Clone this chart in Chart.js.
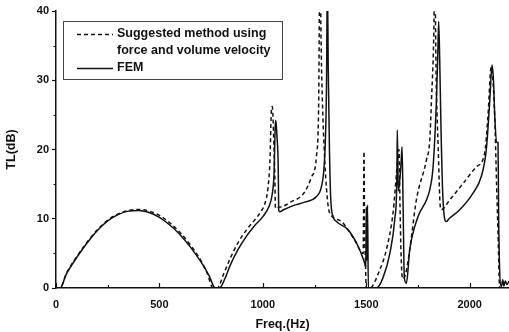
<!DOCTYPE html>
<html>
<head>
<meta charset="utf-8">
<script src="https://cdn.jsdelivr.net/npm/chart.js@4.4.0/dist/chart.umd.min.js"></script>
<style>
  html, body { margin: 0; padding: 0; background: #fff; }
  #wrap { width: 509px; height: 332px; }
</style>
</head>
<body>
<div id="wrap"><canvas id="c" width="509" height="332"></canvas></div>
<script>
// FEM (solid line)
const femFreq = [0, 20, 50, 100, 150, 200, 250, 300, 350, 400, 450, 500, 550, 600, 650, 700, 740, 770, 790,
  816, 841, 881, 921, 960, 1000, 1030, 1045, 1054, 1060, 1063, 1068, 1074, 1077, 1082, 1100, 1147, 1203,
  1259, 1283, 1296, 1304, 1308, 1312, 1316, 1322, 1328, 1340, 1356, 1412, 1461, 1490, 1498, 1500, 1503, 1506,
  1510, 1549, 1581, 1614, 1638, 1648, 1650, 1655, 1662, 1668, 1673, 1678, 1684, 1694, 1710, 1750, 1791, 1807,
  1823, 1839, 1846, 1850, 1855, 1862, 1871, 1887, 1900, 1952, 2016, 2056, 2080, 2097, 2108, 2115, 2121, 2130,
  2137, 2140, 2153, 2160, 2165, 2172, 2180, 2190];
const femTL = [0, 0, 2.0, 4.4, 6.5, 8.3, 9.7, 10.6, 11.1, 11.2, 10.9, 10.2, 9.1, 7.7, 5.9, 3.8, 1.8, 0, 0,
  1.3, 3.2, 5.6, 7.5, 9.0, 10.3, 11.8, 13.5, 16.5, 23.5, 24.2, 22, 18, 11.2, 11.0, 11.3, 11.9, 12.4,
  13.2, 14.6, 17.5, 23, 30, 45, 32, 20, 13, 10.3, 9.6, 8.4, 6.0, 3.8, 3.0, 11.7, 4, 12,
  0, 0, 1.5, 5, 10, 16, 22.8, 14, 15.6, 18, 20.4, 12, 1.5, 0.7, 5.5, 10.3, 12.7, 14.2,
  17.5, 27, 34, 38.5, 33, 22, 12.7, 9.6, 10.0, 11.3, 13.7, 16.1, 19.9, 27, 32.2, 30, 25, 21,
  21, 10, 0.2, 1.2, 0.3, 1, 0.5, 1];

// Suggested method using force and volume velocity (dashed line)
const sugFreq = [0, 20, 50, 100, 150, 200, 250, 300, 350, 400, 450, 500, 550, 600, 650, 700, 730, 760, 780,
  810, 841, 881, 921, 960, 990, 1010, 1025, 1034, 1042, 1046, 1052, 1058, 1061, 1070, 1098, 1140, 1179, 1203, 1235,
  1259, 1270, 1275, 1285, 1300, 1315, 1324, 1380, 1444, 1485, 1489, 1492, 1496, 1500, 1517, 1565, 1597, 1630,
  1646, 1658, 1663, 1668, 1676, 1690, 1710, 1742, 1791, 1807, 1815, 1826, 1831, 1838, 1848, 1857, 1863, 1903,
  1968, 2032, 2072, 2088, 2104, 2110, 2121, 2130, 2137, 2145, 2190];
const sugTL = [0, 0, 2.1, 4.5, 6.6, 8.4, 9.8, 10.7, 11.2, 11.35, 11.1, 10.5, 9.4, 8.0, 6.2, 4.0, 2.2, 0, 0,
  2.0, 4.2, 6.6, 8.4, 9.8, 11.0, 12.2, 14.5, 18.2, 25.9, 26.2, 22, 16, 11.5, 11.6, 11.8, 12.5, 13.1, 13.9, 16,
  19, 27, 45, 30, 18, 12, 10.8, 9.6, 6.9, 5.0, 19.7, 8, 4, 0, 0, 2.6, 5.5, 11,
  16.5, 20, 12, 5, 1.3, 2, 5.5, 12.7, 18.5, 21.4, 27, 36, 45, 30, 20, 12, 11.3, 12.7,
  15.1, 17.5, 19.4, 24.7, 31.9, 31, 24.7, 15, 7.9, 0, 0];

const xTicks = [0, 500, 1000, 1500, 2000];
const yTicks = [0, 10, 20, 30, 40];
const legendLines = ['Suggested method using', 'force and volume velocity', 'FEM'];

const pts = (xs, ys) => xs.map((x, i) => ({ x: x, y: ys[i] }));

// Inward x ticks (major + minor), minor y ticks, and the boxed legend
const decorations = {
  id: 'decorations',
  afterDraw(chart) {
    const ctx = chart.ctx;
    const x = chart.scales.x, y = chart.scales.y;
    const base = y.getPixelForValue(0);
    ctx.save();
    ctx.strokeStyle = '#111';
    ctx.lineWidth = 1.2;
    ctx.beginPath();
    for (let v = 0; v <= 2190; v += 250) {
      const px = Math.round(x.getPixelForValue(v)) + 0.5;
      const len = v % 500 === 0 ? 5 : 3;
      ctx.moveTo(px, base);
      ctx.lineTo(px, base - len);
    }
    for (let v = 5; v < 40; v += 10) {
      const py = Math.round(y.getPixelForValue(v)) + 0.5;
      ctx.moveTo(x.left, py);
      ctx.lineTo(x.left - 2.5, py);
    }
    ctx.stroke();

    // legend box
    ctx.fillStyle = '#fff';
    ctx.fillRect(63, 21, 220, 59);
    ctx.strokeStyle = '#444';
    ctx.lineWidth = 1;
    ctx.strokeRect(63.5, 21.5, 219, 58);

    ctx.strokeStyle = '#111';
    ctx.lineWidth = 1.4;
    ctx.setLineDash([4, 3]);
    ctx.beginPath();
    ctx.moveTo(77, 34.5); ctx.lineTo(113, 34.5);
    ctx.stroke();
    ctx.setLineDash([]);
    ctx.beginPath();
    ctx.moveTo(77, 68.5); ctx.lineTo(113, 68.5);
    ctx.stroke();

    ctx.fillStyle = '#111';
    ctx.font = 'bold 12.5px "Liberation Sans", Arial, sans-serif';
    ctx.textBaseline = 'middle';
    ctx.fillText(legendLines[0], 117, 34);
    ctx.fillText(legendLines[1], 117, 51);
    ctx.fillText(legendLines[2], 117, 68);
    ctx.restore();
  }
};

const tickFont = { family: '"Liberation Sans", Arial, sans-serif', size: 11, weight: 'bold' };

new Chart(document.getElementById('c'), {
  type: 'line',
  data: {
    datasets: [
      {
        label: 'Suggested method using force and volume velocity',
        data: pts(sugFreq, sugTL),
        borderColor: '#111',
        borderWidth: 1.5,
        borderDash: [4, 3],
        pointRadius: 0,
        cubicInterpolationMode: 'monotone',
        fill: false
      },
      {
        label: 'FEM',
        data: pts(femFreq, femTL),
        borderColor: '#111',
        borderWidth: 1.5,
        pointRadius: 0,
        cubicInterpolationMode: 'monotone',
        fill: false
      }
    ]
  },
  options: {
    responsive: false,
    animation: false,
    layout: { padding: { top: 11, right: 0, left: 0, bottom: 0 } },
    plugins: {
      legend: { display: false },
      tooltip: { enabled: false }
    },
    scales: {
      x: {
        type: 'linear',
        min: 0,
        max: 2190,
        afterFit: s => { s.height = 44; },
        afterBuildTicks: s => { s.ticks = xTicks.map(v => ({ value: v })); },
        grid: { display: false },
        border: { display: true, color: '#111', width: 1.5 },
        ticks: { color: '#111', font: tickFont, padding: 2, maxRotation: 0, callback: v => String(v) },
        title: {
          display: true,
          text: 'Freq.(Hz)',
          color: '#111',
          font: { family: '"Liberation Sans", Arial, sans-serif', size: 12.5, weight: 'bold' },
          padding: { top: 0, bottom: 0 }
        }
      },
      y: {
        min: 0,
        max: 40,
        afterFit: s => { s.width = 56; },
        afterBuildTicks: s => { s.ticks = yTicks.map(v => ({ value: v })); },
        grid: { display: true, drawOnChartArea: false, tickLength: 4, color: '#111', tickWidth: 1.2 },
        border: { display: true, color: '#111', width: 1.5 },
        ticks: { color: '#111', font: tickFont, padding: 3, callback: v => String(v) },
        title: {
          display: true,
          text: 'TL(dB)',
          color: '#111',
          font: { family: '"Liberation Sans", Arial, sans-serif', size: 12.5, weight: 'bold' },
          padding: { top: 4, bottom: 4 }
        }
      }
    }
  },
  plugins: [decorations]
});
</script>
</body>
</html>
